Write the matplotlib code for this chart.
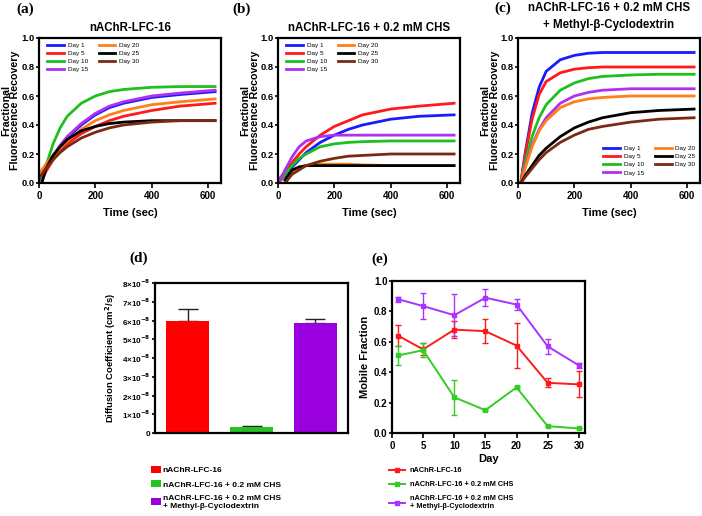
import numpy as np
import matplotlib
matplotlib.use("Agg")
import matplotlib.pyplot as plt
from matplotlib.patches import Patch
from matplotlib.lines import Line2D

plt.rcParams['font.family'] = ['Liberation Sans', 'DejaVu Sans']
plt.rcParams['font.weight'] = 'bold'

nan = np.nan
# ---------------- data ----------------
time_s = [0, 10, 25, 50, 75, 100, 150, 200, 250, 300, 400, 500, 625]
day_labels = ["Day 1", "Day 5", "Day 10", "Day 15", "Day 20", "Day 25", "Day 30"]
day_colors = ["#1a1aff", "#ff1a1a", "#1fbf1f", "#b030f0", "#ff7f1a", "#000000", "#7a2a10"]

# panel (a): nAChR-LFC-16
a_day1 = [0.02, 0.05, 0.10, 0.18, 0.25, 0.31, 0.40, 0.47, 0.52, 0.55, 0.59, 0.61, 0.63]
a_day5 = [nan, 0.02, 0.08, 0.16, 0.22, 0.27, 0.34, 0.39, 0.43, 0.46, 0.50, 0.53, 0.55]
a_day10 = [nan, 0.01, 0.12, 0.27, 0.38, 0.46, 0.55, 0.60, 0.63, 0.645, 0.66, 0.665, 0.665]
a_day15 = [0.03, 0.06, 0.11, 0.19, 0.26, 0.32, 0.41, 0.48, 0.53, 0.56, 0.60, 0.62, 0.64]
a_day20 = [0.07, 0.09, 0.13, 0.19, 0.24, 0.29, 0.37, 0.43, 0.47, 0.50, 0.54, 0.56, 0.58]
a_day25 = [nan, 0.00, 0.10, 0.19, 0.25, 0.30, 0.36, 0.39, 0.41, 0.42, 0.43, 0.43, 0.43]
a_day30 = [0.04, 0.06, 0.10, 0.16, 0.21, 0.25, 0.31, 0.35, 0.38, 0.40, 0.42, 0.43, 0.43]

# panel (b): + 0.2 mM CHS
b_day1 = [0.00, 0.02, 0.05, 0.11, 0.16, 0.21, 0.28, 0.33, 0.37, 0.40, 0.44, 0.46, 0.47]
b_day5 = [0.02, 0.04, 0.08, 0.14, 0.20, 0.25, 0.33, 0.39, 0.43, 0.47, 0.51, 0.53, 0.55]
b_day10 = [0.00, 0.02, 0.06, 0.12, 0.17, 0.20, 0.25, 0.27, 0.28, 0.285, 0.29, 0.29, 0.29]
b_day15 = [0.00, 0.03, 0.09, 0.18, 0.25, 0.29, 0.32, 0.33, 0.33, 0.33, 0.33, 0.33, 0.33]
b_day20 = [nan, nan, 0.00, 0.08, 0.11, 0.12, 0.13, 0.13, 0.13, 0.125, 0.12, 0.12, 0.12]
b_day25 = [nan, nan, 0.02, 0.09, 0.11, 0.12, 0.12, 0.12, 0.12, 0.12, 0.12, 0.12, 0.12]
b_day30 = [nan, nan, 0.00, 0.06, 0.09, 0.12, 0.15, 0.17, 0.185, 0.19, 0.20, 0.20, 0.20]

# panel (c): + 0.2 mM CHS + Methyl-beta-Cyclodextrin
c_day1 = [nan, 0.00, 0.20, 0.48, 0.66, 0.77, 0.85, 0.88, 0.895, 0.90, 0.90, 0.90, 0.90]
c_day5 = [nan, 0.00, 0.19, 0.44, 0.61, 0.70, 0.76, 0.785, 0.795, 0.80, 0.80, 0.80, 0.80]
c_day10 = [nan, 0.00, 0.14, 0.32, 0.45, 0.54, 0.64, 0.69, 0.72, 0.735, 0.745, 0.75, 0.75]
c_day15 = [nan, 0.00, 0.11, 0.26, 0.37, 0.45, 0.55, 0.60, 0.625, 0.64, 0.65, 0.65, 0.65]
c_day20 = [nan, 0.00, 0.10, 0.25, 0.36, 0.43, 0.52, 0.56, 0.58, 0.59, 0.60, 0.60, 0.60]
c_day25 = [nan, 0.00, 0.05, 0.12, 0.19, 0.24, 0.32, 0.38, 0.42, 0.45, 0.485, 0.50, 0.51]
c_day30 = [nan, 0.00, 0.04, 0.10, 0.16, 0.21, 0.28, 0.33, 0.37, 0.39, 0.42, 0.44, 0.45]

# panel (d): diffusion coefficient
conditions = ["nAChR-LFC-16", "nAChR-LFC-16 + 0.2 mM CHS",
              "nAChR-LFC-16 + 0.2 mM CHS\n+ Methyl-\u03b2-Cyclodextrin"]
cond_bar_colors = ["#ff0000", "#22c322", "#9900dd"]
diff_coef = [6.0e-8, 0.3e-8, 5.85e-8]
diff_err = [0.6e-8, 0.05e-8, 0.25e-8]

# panel (e): mobile fraction
days = [1, 5, 10, 15, 20, 25, 30]
mf_lfc = [0.64, 0.55, 0.68, 0.67, 0.575, 0.33, 0.32]
mf_lfc_err = [0.07, 0.04, 0.055, 0.08, 0.15, 0.03, 0.085]
mf_chs = [0.51, 0.545, 0.235, 0.15, 0.30, 0.045, 0.03]
mf_chs_err = [0.06, 0.045, 0.115, 0.0, 0.012, 0.0, 0.0]
mf_mbcd = [0.88, 0.835, 0.775, 0.89, 0.845, 0.57, 0.445]
mf_mbcd_err = [0.015, 0.085, 0.14, 0.055, 0.035, 0.05, 0.015]
cond_line_colors = ["#ff1a1a", "#33cc22", "#aa33ff"]

# ---------------- layout ----------------
W, H = 702, 516
fig = plt.figure(figsize=(W / 100, H / 100), dpi=100)

def rect(l, t, r, b):
    return [l / W, 1 - b / H, (r - l) / W, (b - t) / H]

TICK = 7
LAB = 8

def style(ax, ticksize=TICK):
    for s in ax.spines.values():
        s.set_linewidth(1.6)
    ax.tick_params(axis='x', which='major', labelsize=ticksize, width=1.2, length=3.5, direction='out', pad=2.5)
    ax.tick_params(axis='y', which='major', labelsize=ticksize, width=1.2, length=2.5, direction='out', pad=0.8)
    for lab in ax.get_xticklabels() + ax.get_yticklabels():
        lab.set_fontweight('bold')

frap = [
    ("nAChR-LFC-16", [a_day1, a_day5, a_day10, a_day15, a_day20, a_day25, a_day30], (39, 38, 221, 183), "(a)", 16),
    ("nAChR-LFC-16 + 0.2 mM CHS", [b_day1, b_day5, b_day10, b_day15, b_day20, b_day25, b_day30], (278, 38, 460, 183), "(b)", 232),
    ("nAChR-LFC-16 + 0.2 mM CHS\n+ Methyl-\u03b2-Cyclodextrin", [c_day1, c_day5, c_day10, c_day15, c_day20, c_day25, c_day30], (518, 38, 700, 183), "(c)", 494),
]

for idx, (title, series, box, plab, plx) in enumerate(frap):
    ax = fig.add_axes(rect(*box))
    for vals, lab, col in zip(series, day_labels, day_colors):
        ax.plot(time_s, vals, color=col, lw=2.0, label=lab)
    ax.set_xlim(0, 646)
    ax.set_ylim(0, 1.0)
    ax.set_xticks([0, 200, 400, 600])
    ax.set_yticks([0, 0.2, 0.4, 0.6, 0.8, 1.0])
    ax.set_yticklabels(["0.0", "0.2", "0.4", "0.6", "0.8", "1.0"])
    style(ax)
    ax.tick_params(axis='y', labelsize=6.8)
    ax.set_xlabel("Time (sec)", fontsize=LAB, fontweight='bold', labelpad=5)
    ax.set_ylabel("Fractional\nFluorescence Recovery", fontsize=7.7, fontweight='bold', linespacing=0.85)
    axw = box[2] - box[0]
    ax.yaxis.set_label_coords(-18.5 / axw, 0.5)
    legkw = dict(ncol=2, fontsize=4.6, frameon=False, handlelength=2.6, borderaxespad=0.3,
                 labelspacing=0.42, columnspacing=1.7, handletextpad=0.6)
    if idx < 2:
        ax.set_title(title, fontsize=8.3, fontweight='bold', pad=5)
        fig.text(plx / W, 1 - 9 / H, plab, fontsize=11, fontweight='bold', family='Liberation Serif', va='center')
        leg = ax.legend(loc='upper left', bbox_to_anchor=(0.02, 1.0), **legkw)
    else:
        fig.text((518 + 91) / W, 1 - 16.5 / H, title, fontsize=8.3, fontweight='bold', ha='center', va='center', linespacing=1.55)
        fig.text(plx / W, 1 - 8 / H, plab, fontsize=11, fontweight='bold', family='Liberation Serif', va='center')
        leg = ax.legend(loc='lower right', bbox_to_anchor=(1.0, 0.02), **legkw)
    for t in leg.get_texts():
        t.set_fontweight('normal')

# ---------------- panel (d) ----------------
axd = fig.add_axes(rect(155, 283, 348, 433))
xpos = np.arange(len(diff_coef))
axd.bar(xpos, diff_coef, width=0.67, color=cond_bar_colors, edgecolor='none', zorder=2)
axd.errorbar(xpos, diff_coef, yerr=[np.zeros(3), diff_err], fmt='none', ecolor='#222222',
             elinewidth=1.0, capsize=7.5, capthick=1.0, zorder=1)
axd.set_xlim(-0.51, 2.51)
axd.set_ylim(0, 8e-8)
axd.set_xticks([])
yt = [i * 1e-8 for i in range(9)]
axd.set_yticks(yt)
axd.set_yticklabels(["0"] + ["%d\u00d710$^{\\mathbf{-8}}$" % i for i in range(1, 9)])
style(axd, ticksize=5.8)
axd.set_ylabel("Diffusion Coefficient (cm$^{\\mathbf{2}}$/s)", fontsize=6.8, fontweight='bold', labelpad=3)
fig.text(129 / W, 1 - 258 / H, "(d)", fontsize=11, fontweight='bold', family='Liberation Serif', va='center')
handles_d = [Patch(facecolor=c, edgecolor='none') for c in cond_bar_colors]
legd = fig.legend(handles_d, conditions, loc='upper left', bbox_to_anchor=(151 / W, 1 - 466 / H),
                  frameon=False, fontsize=6.0, handlelength=1.2, handleheight=0.95, handletextpad=0.2,
                  labelspacing=0.7, borderaxespad=0, borderpad=0)

# ---------------- panel (e) ----------------
axe = fig.add_axes(rect(392, 281, 585, 433))
for vals, errs, col, lab in zip([mf_lfc, mf_chs, mf_mbcd], [mf_lfc_err, mf_chs_err, mf_mbcd_err],
                                cond_line_colors, conditions):
    axe.errorbar(days, vals, yerr=errs, color=col, lw=1.4, marker='s', ms=2.5, capsize=2,
                 elinewidth=1.0, capthick=1.0, label=lab)
axe.set_xlim(0, 31)
axe.set_ylim(0, 1.0)
axe.set_xticks([0, 5, 10, 15, 20, 25, 30])
axe.set_yticks([0, 0.2, 0.4, 0.6, 0.8, 1.0])
axe.set_yticklabels(["0.0", "0.2", "0.4", "0.6", "0.8", "1.0"])
style(axe)
axe.set_xlabel("Day", fontsize=LAB, fontweight='bold', labelpad=2)
axe.set_ylabel("Mobile Fraction", fontsize=LAB, fontweight='bold', labelpad=3)
fig.text(371 / W, 1 - 259 / H, "(e)", fontsize=11, fontweight='bold', family='Liberation Serif', va='center')
handles_e = [Line2D([0], [0], color=c, lw=1.4, marker='s', ms=2.5) for c in cond_line_colors]
lege = fig.legend(handles_e, conditions, loc='upper left', bbox_to_anchor=(389 / W, 1 - 467 / H),
                  frameon=False, fontsize=5.3, handlelength=2.2, handletextpad=0.6,
                  labelspacing=0.95, borderaxespad=0, borderpad=0)

fig.savefig("out.png", dpi=100)
